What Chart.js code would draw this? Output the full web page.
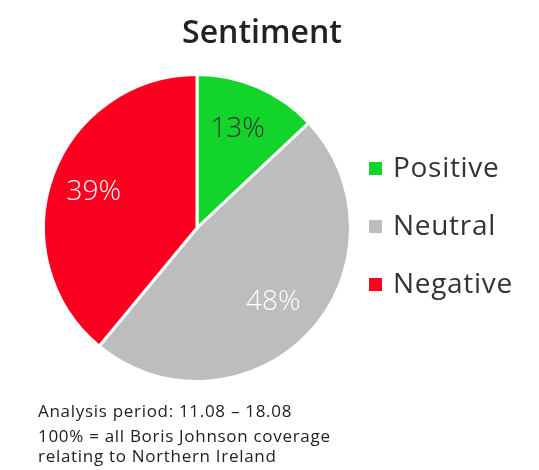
<!DOCTYPE html>
<html>
<head>
<meta charset="utf-8">
<script src="https://cdn.jsdelivr.net/npm/chart.js@4.4.0/dist/chart.umd.min.js"></script>
<style>
    html, body { margin: 0; padding: 0; background: #ffffff; }
    #chart { display: block; }
</style>
</head>
<body>
<canvas id="chart" width="539" height="470"></canvas>
<script>
// Chart data
const CATEGORIES = ['Positive', 'Neutral', 'Negative'];
const SHARES = [13, 48, 39];
const COLORS = ['#12d42a', '#bdbdbd', '#fc0020'];
const LABEL_COLORS = ['#333333', '#ffffff', '#ffffff'];
const TITLE = 'Sentiment';
const NOTES = [
    'Analysis period: 11.08 \u2013 18.08',
    '100% = all Boris Johnson coverage',
    'relating to Northern Ireland'
];

const FONT = '"Open Sans", "Noto Sans", sans-serif';

// Draws title, slice labels, legend and footnote
const decorPlugin = {
    id: 'decor',
    afterDatasetsDraw(chart) {
        const ctx = chart.ctx;
        ctx.save();

        // Title
        ctx.fillStyle = '#222222';
        ctx.font = '600 32px ' + FONT;
        ctx.textAlign = 'center';
        ctx.textBaseline = 'alphabetic';
        ctx.fillText(TITLE, 262, 43);

        // Percentage labels inside slices
        const meta = chart.getDatasetMeta(0);
        ctx.font = '300 28px ' + FONT;
        ctx.textBaseline = 'middle';
        meta.data.forEach((arc, i) => {
            const p = arc.getProps(['x', 'y', 'startAngle', 'endAngle', 'outerRadius'], true);
            const mid = (p.startAngle + p.endAngle) / 2;
            const r = p.outerRadius * 0.7;
            ctx.fillStyle = LABEL_COLORS[i];
            ctx.fillText(SHARES[i] + '%', p.x - 2 + Math.cos(mid) * r, p.y + Math.sin(mid) * r);
        });

        // Legend
        ctx.textAlign = 'left';
        ctx.font = '28px ' + FONT;
        ctx.letterSpacing = '0.7px';
        CATEGORIES.forEach((name, i) => {
            const cy = 168.5 + i * 58;
            ctx.fillStyle = COLORS[i];
            ctx.fillRect(369, cy - 6.5, 13, 13);
            ctx.fillStyle = '#333333';
            ctx.fillText(name, 393, cy + 1);
        });

        // Footnote
        ctx.fillStyle = '#222222';
        ctx.font = '17px ' + FONT;
        ctx.letterSpacing = '0.7px';
        ctx.textBaseline = 'alphabetic';
        const baselines = [417, 442, 462];
        NOTES.forEach((line, i) => ctx.fillText(line, 38, baselines[i]));

        ctx.restore();
    }
};

const sentimentChart = new Chart(document.getElementById('chart').getContext('2d'), {
    type: 'pie',
    data: {
        labels: CATEGORIES,
        datasets: [{
            data: SHARES,
            backgroundColor: COLORS,
            borderColor: '#ffffff',
            borderWidth: 3
        }]
    },
    options: {
        responsive: false,
        animation: false,
        layout: {
            padding: { left: 42, right: 187, top: 73, bottom: 87 }
        },
        plugins: {
            legend: { display: false },
            title: { display: false },
            tooltip: { enabled: false }
        }
    },
    plugins: [decorPlugin]
});
</script>
</body>
</html>
